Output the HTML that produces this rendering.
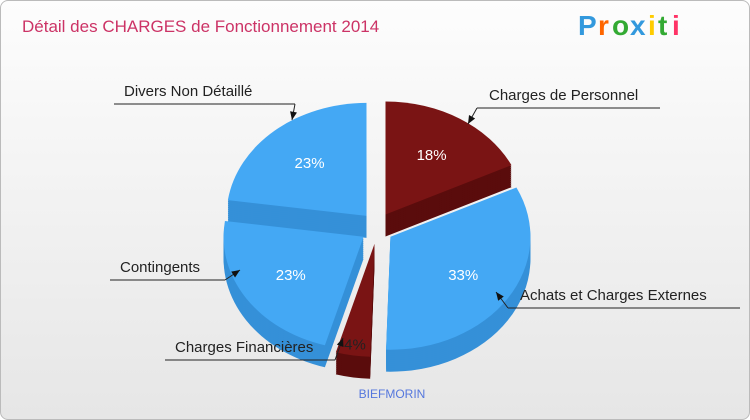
<!DOCTYPE html>
<html><head><meta charset="utf-8"><style>
html,body{margin:0;padding:0;}
body{width:750px;height:420px;overflow:hidden;font-family:"Liberation Sans",sans-serif;}
#wrap{position:absolute;left:0;top:0;width:748px;height:418px;border:1px solid #bbb;border-radius:8px;background:linear-gradient(#fdfdfd,#e6e6e6);}
</style></head><body>
<div id="wrap"></div>
<svg id="chart" width="750" height="420" style="position:absolute;left:0;top:0">
<text x="22" y="32" font-size="17" fill="#cc3366">Détail des CHARGES de Fonctionnement 2014</text>
<g font-size="28" font-weight="bold" font-family="Liberation Sans,sans-serif">
<text x="578" y="35" fill="#3399dd">P</text><text x="598" y="35" fill="#ff6600">r</text><text x="612" y="35" fill="#33aa33">o</text><text x="630" y="35" fill="#3399dd">x</text><text x="648" y="35" fill="#ffcc00">i</text><text x="658" y="35" fill="#33aa33">t</text><text x="672" y="35" fill="#ff3366">i</text>
</g>
<text x="392" y="398" font-size="12" fill="#5577dd" text-anchor="middle">BIEFMORIN</text>
<g id="pie"></g>
<g id="labels"></g>
</svg>
<script>
const categories=["Charges de Personnel","Achats et Charges Externes","Charges Financières","Contingents","Divers Non Détaillé"];
const values=[18,33,4,23,23];
const colors=["#7a1414","#44a8f4","#7a1414","#44a8f4","#44a8f4"];
const sides=["#5a0c0c","#3590d8","#5a0c0c","#3590d8","#3590d8"];
const cx=377,cy=228,rx=140,ry=113,depth=22,explode=16;
const ns="http://www.w3.org/2000/svg";
const pie=document.getElementById('pie'),lab=document.getElementById('labels');
const total=values.reduce((a,b)=>a+b,0);
function pt(a,ox,oy,dy){return [ox+rx*Math.sin(a),oy-ry*Math.cos(a)+dy];}
function slicePath(a0,a1,ox,oy,dy){
 const p0=pt(a0,ox,oy,dy),p1=pt(a1,ox,oy,dy);const large=(a1-a0)>Math.PI?1:0;
 return `M${ox},${oy+dy} L${p0[0]},${p0[1]} A${rx},${ry} 0 ${large} 1 ${p1[0]},${p1[1]} Z`;}
let acc=0;const sl=[];
values.forEach((v,i)=>{const a0=acc/total*2*Math.PI;acc+=v;const a1=acc/total*2*Math.PI;const m=(a0+a1)/2;
 sl.push({i,a0,a1,m,ox:cx+explode*Math.sin(m),oy:cy-explode*Math.cos(m)});});
sl.forEach(s=>{for(let d=depth;d>0;d-=2){const p=document.createElementNS(ns,'path');
 p.setAttribute('d',slicePath(s.a0,s.a1,s.ox,s.oy,d));p.setAttribute('fill',sides[s.i]);
 
 pie.appendChild(p);}});
sl.forEach(s=>{const p=document.createElementNS(ns,'path');
 p.setAttribute('d',slicePath(s.a0,s.a1,s.ox,s.oy,0));p.setAttribute('fill',colors[s.i]);
 
 pie.appendChild(p);
 const r=s.i==2?0.9:0.62;const t=document.createElementNS(ns,'text');
 t.setAttribute('x',s.ox+rx*r*Math.sin(s.m));t.setAttribute('y',s.oy-ry*r*Math.cos(s.m)+5);
 t.setAttribute('text-anchor','middle');t.setAttribute('font-size','15');t.setAttribute('fill',s.i==2?'#222':'#fff');
 t.textContent=values[s.i]+'%';
 
 lab.appendChild(t);});
const callouts=[[489,100,655,108,468,124],[520,300,735,308,496,292],[175,352,330,360,343,338],[120,272,220,280,240,270],[124,96,290,104,292,120]];
callouts.forEach((c,i)=>{const g=document.createElementNS(ns,'g');
 
 
 const t=document.createElementNS(ns,'text');t.setAttribute('x',c[0]);t.setAttribute('y',c[1]);t.setAttribute('font-size','15');t.setAttribute('fill','#222');t.textContent=categories[i];g.appendChild(t);
 const lx0=i<2?c[0]-12:c[0]-10,lx1=c[2]+5;
 const l=document.createElementNS(ns,'path');
 const near=i<2?lx0:lx1;
 l.setAttribute('d',`M${lx0},${c[3]} L${lx1},${c[3]} M${near},${c[3]} L${c[4]},${c[5]}`);l.setAttribute('stroke','#222');l.setAttribute('fill','none');g.appendChild(l);
 const ang=Math.atan2(c[5]-c[3],c[4]-near);const ah=document.createElementNS(ns,'path');
 const x=c[4],y=c[5];ah.setAttribute('d',`M${x},${y} L${x-9*Math.cos(ang-0.4)},${y-9*Math.sin(ang-0.4)} L${x-9*Math.cos(ang+0.4)},${y-9*Math.sin(ang+0.4)} Z`);ah.setAttribute('fill','#111');g.appendChild(ah);
 lab.appendChild(g);});
</script>
</body></html>
